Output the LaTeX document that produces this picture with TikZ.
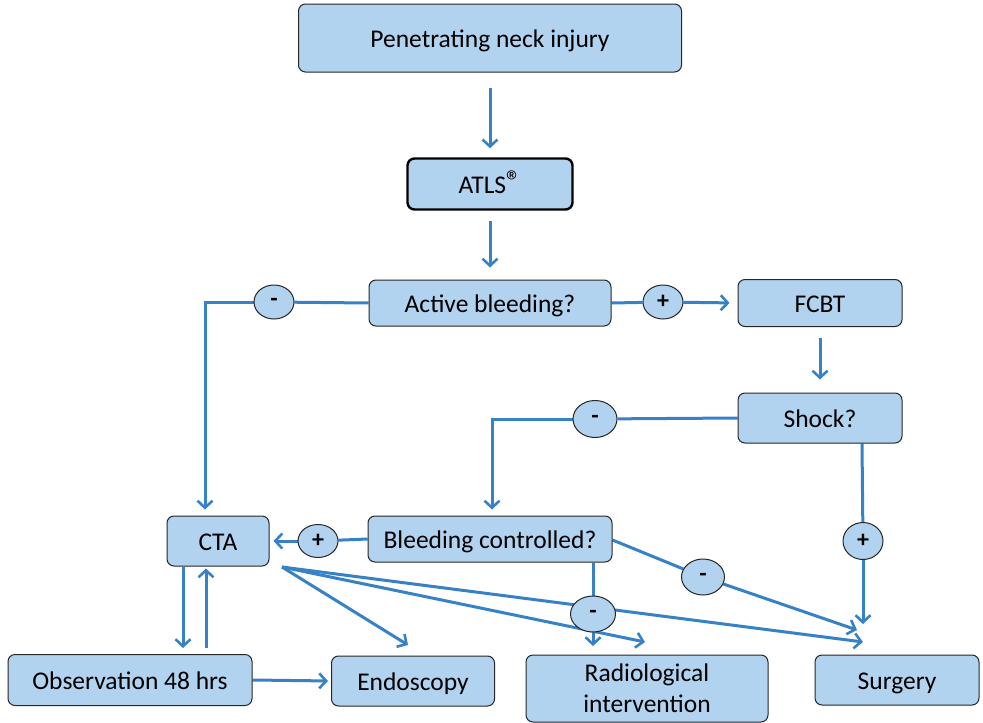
\documentclass[tikz,border=0pt]{standalone}
\usepackage{fontspec}
\setmainfont{Carlito}
\usetikzlibrary{arrows.meta,shapes.geometric,calc}
\definecolor{boxfill}{RGB}{178,211,239}
\definecolor{arr}{RGB}{55,130,198}
\pgfdeclarelayer{bg}
\pgfsetlayers{bg,main}
\begin{document}
\begin{tikzpicture}[x=1pt,y=-1pt,
  box/.style={draw=black!85, fill=boxfill, rounded corners=7pt, line width=1pt,
    font=\fontsize{25.5}{31}\selectfont, align=center, inner sep=0pt,
    text height=18pt, text depth=0pt},
  sign/.style={ellipse, draw=black!85, fill=boxfill, line width=1pt,
    minimum width=42pt, minimum height=35pt, inner sep=0pt,
    font=\fontsize{24}{24}\selectfont\bfseries},
  link/.style={draw=arr, line width=3pt, -{Straight Barb[length=7pt,width=15pt,line width=2.6pt]}},
  plain/.style={draw=arr, line width=3pt}]
\useasboundingbox (0,0) rectangle (983,723);
% boxes
\node[box, minimum width=383pt, minimum height=68pt] (pni) at (490,38) {Penetrating neck injury};
\node[box, draw=black, line width=2.4pt, minimum width=165pt, minimum height=51pt] (atls) at (490,184) {ATLS\raisebox{0.05em}{\fontsize{30}{30}\selectfont ®}};
\node[box, minimum width=242pt, minimum height=46pt] (ab) at (490,303) {Active bleeding?};
\node[box, minimum width=164pt, minimum height=47pt] (fcbt) at (820,303) {FCBT};
\node[box, minimum width=164pt, minimum height=50pt] (shock) at (820,418) {Shock?};
\node[box, minimum width=102pt, minimum height=50pt] (cta) at (218,541) {CTA};
\node[box, minimum width=244pt, minimum height=46pt] (bc) at (490,539) {Bleeding controlled?};
\node[box, minimum width=244pt, minimum height=51pt] (obs) at (130,680) {Observation 48 hrs};
\node[box, minimum width=163pt, minimum height=50pt] (endo) at (413,681) {Endoscopy};
\node[box, minimum width=242pt, minimum height=67pt, text height=, text depth=] (radio) at (647,688.5) {Radiological\\intervention};
\node[box, minimum width=164pt, minimum height=50pt] (surg) at (897,680) {Surgery};
% signs
\node[sign, minimum width=40pt, minimum height=34pt] (m1) at (274,302) {-};
\node[sign, minimum width=40pt, minimum height=34pt] (p1) at (663,302) {+};
\node[sign, minimum width=44pt, minimum height=37pt] (m2) at (595,419) {-};
\node[sign, minimum width=40pt, minimum height=33pt] (p2) at (318,541) {+};
\node[sign, minimum width=45pt, minimum height=36pt] (m5) at (593,614) {-};
\node[sign, minimum width=43pt, minimum height=36pt] (m4) at (703,577) {-};
\node[sign, minimum width=40pt, minimum height=37pt] (p3) at (863,541) {+};
% free ends
\coordinate (ctaout) at (282,567);
\coordinate (endoin) at (408,645);
\coordinate (radin) at (645,642);
\coordinate (surgin1) at (863,642);
\coordinate (surgin2) at (857,630);
\coordinate (surgin3) at (863,624);
\coordinate (radin2) at (593,646);
\begin{pgfonlayer}{bg}
\draw[link, shorten <=15pt, shorten >=9pt] (pni) -- (atls);
\draw[link, shorten <=10pt, shorten >=12pt] (atls) -- (ab);
\draw[plain] (ab.west) -- (m1);
\draw[link, shorten >=6pt] (m1.west) -| ($(cta.north)+(-13,0)$);
\draw[plain] (ab.east) -- (p1);
\draw[link, shorten >=8pt] (p1) -- (fcbt.west);
\draw[link, shorten <=11pt, shorten >=13pt] (fcbt) -- (shock);
\draw[plain] (shock.west) -- (m2);
\draw[link, shorten >=6pt] (m2.west) -| ($(bc.north)+(2,0)$);
\draw[plain] ($(shock.south)+(42,0)$) -- (p3);
\draw[link] (p3) -- (surgin3);
\draw[plain] (bc.west) -- (p2);
\draw[link, shorten >=4pt] (p2) -- (cta.east);
\draw[plain] ($(bc.south)+(103,0)$) -- (m5);
\draw[link] (m5) -- (radin2);
\draw[plain] ($(bc.east)+(0,1)$) -- (m4);
\draw[link] (m4) -- (surgin2);
\draw[link] (ctaout) -- (endoin);
\draw[link] (ctaout) -- (radin);
\draw[link] (ctaout) -- (surgin1);
\draw[link, shorten >=6pt] ($(cta.south)+(-35,0)$) -- ($(obs.north)+(53,0)$);
\draw[link, shorten <=6pt, shorten >=2pt] ($(obs.north)+(76,0)$) -- ($(cta.south)+(-12,0)$);
\draw[link, shorten >=3pt] (obs.east) -- (endo.west);
\end{pgfonlayer}
\end{tikzpicture}
\end{document}
